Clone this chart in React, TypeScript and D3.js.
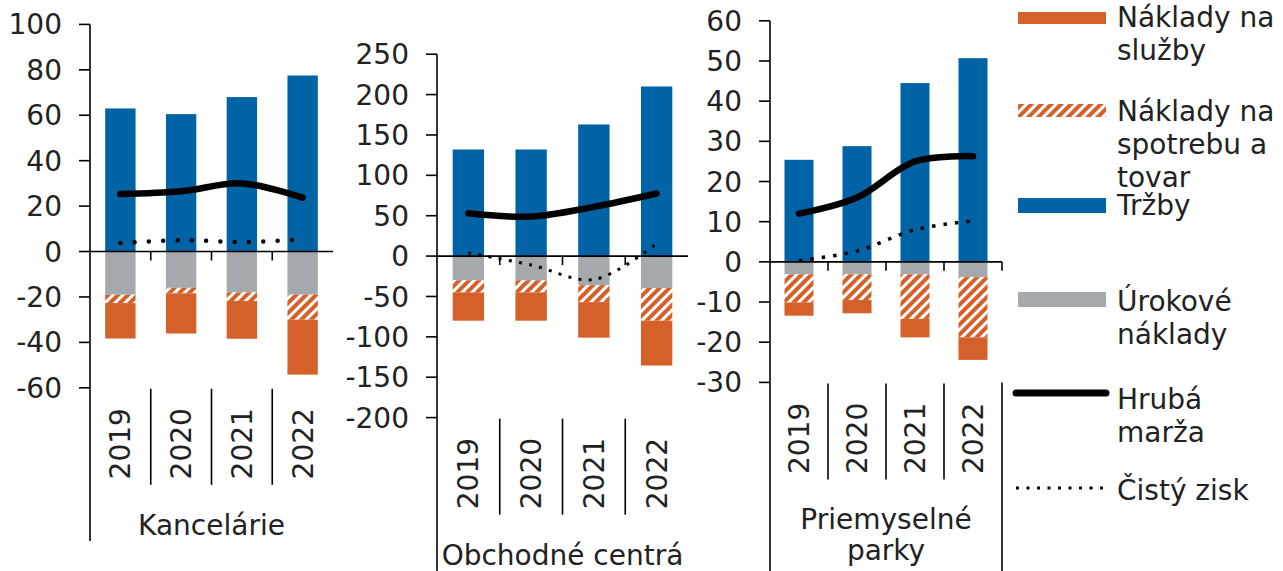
import React from 'react';
import * as d3 from 'd3';

// ---------- data ----------
const categories = ['2019', '2020', '2021', '2022'];
const groupLabelLines = [['Kancelárie'], ['Obchodné centrá'], ['Priemyselné', 'parky']];

const trzby = [[63, 60.5, 68, 77.5], [132, 132, 163, 210], [25.4, 28.8, 44.5, 50.7]];
const urokove = [[-19, -16, -18, -19], [-30, -30, -36, -39.5], [-3.1, -3.1, -3.1, -3.8]];
const spotreba = [[-3.7, -2.4, -3.8, -11], [-15, -15, -21, -40.5], [-7, -6.4, -11.1, -15]];
const sluzby = [[-15.6, -17.7, -16.6, -24.2], [-35, -35, -44, -55.5], [-3.3, -3.3, -4.6, -5.6]];
const marza = [[25.3, 26.5, 30, 23.7], [53, 49, 61, 77.5], [12, 16, 25, 26.3]];
const zisk = [[3.7, 5, 4.2, 5.3], [4, -11, -29, 15.5], [0.3, 2.7, 8, 10.2]];

const yDomains = [[-60, 100], [-200, 250], [-30, 60]];
const yTickSteps = [20, 50, 10];

const legendLabels = [
  ['Náklady na', 'služby'],
  ['Náklady na', 'spotrebu a', 'tovar'],
  ['Tržby'],
  ['Úrokové', 'náklady'],
  ['Hrubá', 'marža'],
  ['Čistý zisk'],
];

// ---------- styles / layout ----------
const ORANGE = '#D4612A';
const BLUE = '#0063A6';
const GRAY = '#A3A9AD';
const FONT = '"DejaVu Sans", Verdana, sans-serif';
const FS = 28;

const panelLayout = [
  { x0: 90, x1: 333, top: 24.4, bottom: 387.8, lineBottom: 541, rightTick: false, rightLine: false,
    dot: { w: 4.5, dash: '0 14.3', cap: 'round' } },
  { x0: 437, x1: 688, top: 54.2, bottom: 417.6, lineBottom: 571, rightTick: false, rightLine: false,
    dot: { w: 3, dash: '3 7.3', cap: 'butt' } },
  { x0: 770, x1: 1002, top: 20.8, bottom: 382.4, lineBottom: 571, rightTick: true, rightLine: true,
    dot: { w: 3.5, dash: '3.5 8', cap: 'butt' } },
];

const legendLayout = [
  { kind: 'rect', fill: ORANGE, y0: 12, y1: 24, base: 27 },
  { kind: 'rect', fill: 'url(#hatch)', y0: 104, y1: 117, base: 121 },
  { kind: 'rect', fill: BLUE, y0: 198, y1: 213, base: 215 },
  { kind: 'rect', fill: GRAY, y0: 292, y1: 307, base: 311 },
  { kind: 'line', y: 393, base: 409 },
  { kind: 'dot', y: 488, base: 500 },
];

function Panel({ i }: { i: number }) {
  const L = panelLayout[i];
  const x = d3.scaleBand<string>().domain(categories).range([L.x0, L.x1]).paddingInner(0.5).paddingOuter(0.25);
  const y = d3.scaleLinear().domain(yDomains[i]).range([L.bottom, L.top]);
  const step = x.step();
  const bw = x.bandwidth();
  const ticks = d3.range(yDomains[i][0], yDomains[i][1] + 0.001, yTickSteps[i]);
  const cx = (c: string) => (x(c) as number) + bw / 2;

  const lineGen = d3
    .line<number>()
    .x((_, k) => cx(categories[k]))
    .y((v) => y(v))
    .curve(d3.curveCatmullRom.alpha(0.5));

  const y0 = y(0);
  const boundaries = categories.slice(1).map((c) => (x(c) as number) - (step - bw) / 2);
  const midX = (L.x0 + L.x1) / 2;

  return (
    <g>
      {categories.map((c, k) => {
        const u = urokove[i][k];
        const s = spotreba[i][k];
        const sl = sluzby[i][k];
        return (
          <g key={c}>
            <rect x={x(c)} y={y(trzby[i][k])} width={bw} height={y0 - y(trzby[i][k])} fill={BLUE} />
            <rect x={x(c)} y={y0} width={bw} height={y(u) - y0} fill={GRAY} />
            <rect x={x(c)} y={y(u)} width={bw} height={y(u + s) - y(u)} fill="url(#hatch)" />
            <rect x={x(c)} y={y(u + s)} width={bw} height={y(u + s + sl) - y(u + s)} fill={ORANGE} />
          </g>
        );
      })}

      <line x1={L.x0} x2={L.x0} y1={L.top} y2={L.lineBottom} stroke="#000" strokeWidth={1.6} />
      {ticks.map((t) => (
        <g key={t}>
          <line x1={L.x0 - 11} x2={L.x0} y1={y(t)} y2={y(t)} stroke="#000" strokeWidth={1.6} />
          <text x={L.x0 - 28} y={y(t)} dy="0.36em" textAnchor="end" fontFamily={FONT} fontSize={FS} fill="#222">
            {t}
          </text>
        </g>
      ))}

      <line x1={L.x0} x2={L.x1} y1={y0} y2={y0} stroke="#000" strokeWidth={1.6} />
      {boundaries.map((b, k) => (
        <line key={k} x1={b} x2={b} y1={y0} y2={y0 + 9} stroke="#000" strokeWidth={1.6} />
      ))}
      {L.rightTick && <line x1={L.x1} x2={L.x1} y1={y0} y2={y0 + 9} stroke="#000" strokeWidth={1.6} />}

      {boundaries.map((b, k) => (
        <line key={k} x1={b} x2={b} y1={L.bottom + 1} y2={L.bottom + 97} stroke="#000" strokeWidth={1.6} />
      ))}
      {L.rightLine && <line x1={L.x1} x2={L.x1} y1={L.bottom} y2={L.lineBottom} stroke="#000" strokeWidth={1.6} />}

      {categories.map((c) => (
        <text
          key={c}
          transform={`translate(${cx(c)},${L.bottom + 56}) rotate(-90)`}
          textAnchor="middle"
          dy="0.36em"
          fontFamily={FONT}
          fontSize={FS}
          fill="#222"
        >
          {c}
        </text>
      ))}

      {groupLabelLines[i].map((t, k) => (
        <text key={k} x={midX} y={L.bottom + 147 + k * 31} textAnchor="middle" fontFamily={FONT} fontSize={FS} fill="#222">
          {t}
        </text>
      ))}

      <path
        d={lineGen(zisk[i]) || ''}
        fill="none"
        stroke="#000"
        strokeWidth={L.dot.w}
        strokeDasharray={L.dot.dash}
        strokeLinecap={L.dot.cap as any}
      />
      <path d={lineGen(marza[i]) || ''} fill="none" stroke="#000" strokeWidth={6.5} strokeLinecap="round" />
    </g>
  );
}

export default function App() {
  return (
    <svg
      width={1283}
      height={571}
      style={{ position: 'absolute', left: 0, top: 0, background: '#fff' }}
      xmlns="http://www.w3.org/2000/svg"
    >
      <defs>
        <pattern id="hatch" patternUnits="userSpaceOnUse" width={7} height={7} patternTransform="rotate(45)">
          <rect x={0} y={0} width={7} height={7} fill={ORANGE} />
          <line x1={1.5} x2={1.5} y1={0} y2={7} stroke="#fff" strokeWidth={3} />
        </pattern>
      </defs>
      <rect x={0} y={0} width={1283} height={571} fill="#fff" />
      {panelLayout.map((_, i) => (
        <Panel key={i} i={i} />
      ))}

      {legendLayout.map((it, k) => (
        <g key={k}>
          {it.kind === 'rect' && <rect x={1018} y={it.y0} width={88} height={(it.y1 as number) - (it.y0 as number)} fill={it.fill} />}
          {it.kind === 'line' && (
            <line x1={1016} x2={1106} y1={it.y} y2={it.y} stroke="#000" strokeWidth={7} strokeLinecap="round" />
          )}
          {it.kind === 'dot' && (
            <line x1={1016} x2={1106} y1={it.y} y2={it.y} stroke="#000" strokeWidth={3} strokeDasharray="3 7.5" />
          )}
          {legendLabels[k].map((t, j) => (
            <text key={j} x={1117} y={it.base + j * 33} fontFamily={FONT} fontSize={FS} fill="#222">
              {t}
            </text>
          ))}
        </g>
      ))}
    </svg>
  );
}
